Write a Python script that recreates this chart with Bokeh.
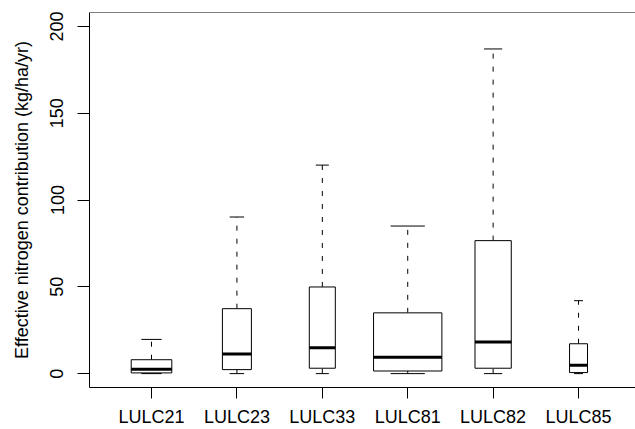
import math
from bokeh.plotting import figure
from bokeh.models import Range1d, FixedTicker, Span, ColumnDataSource
from bokeh.embed import file_html
from bokeh.resources import INLINE

# ---- data ----
categories = ["LULC21", "LULC23", "LULC33", "LULC81", "LULC82", "LULC85"]
lower_whisker = [0.0, 0.0, 0.0, 0.0, 0.0, 0.0]
q1 = [0.4, 2.3, 3.1, 1.5, 3.1, 0.6]
median = [2.5, 11.3, 14.9, 9.4, 18.2, 4.8]
q3 = [8.0, 37.4, 49.9, 35.0, 76.6, 17.2]
upper_whisker = [19.7, 90.2, 120.1, 85.0, 187.0, 42.0]
# relative sample size (box width ~ sqrt(n), R varwidth=TRUE)
sample_share = [0.353, 0.180, 0.145, 1.0, 0.282, 0.069]
y_ticks = [0, 50, 100, 150, 200]

FONT = "Liberation Sans"
FS = "18px"

xs = [i + 1 for i in range(len(categories))]
maxs = max(math.sqrt(s) for s in sample_share)
widths = [0.8 * math.sqrt(s) / maxs for s in sample_share]

src = ColumnDataSource(dict(
    x=xs,
    left=[x - w / 2 for x, w in zip(xs, widths)],
    right=[x + w / 2 for x, w in zip(xs, widths)],
    cap_l=[x - w / 4 for x, w in zip(xs, widths)],
    cap_r=[x + w / 4 for x, w in zip(xs, widths)],
    lo=lower_whisker, q1=q1, med=median, q3=q3, hi=upper_whisker,
))

p = figure(width=635, height=429,
           x_range=Range1d(0.274, 6.667), y_range=Range1d(-8, 208),
           output_backend="svg", toolbar_location=None,
           min_border_left=89, min_border_right=0,
           min_border_top=12, min_border_bottom=41)

p.outline_line_color = None
p.background_fill_color = "white"
p.border_fill_color = "white"
p.xgrid.visible = False
p.ygrid.visible = False

# whiskers
p.segment(x0="x", y0="q3", x1="x", y1="hi", source=src, line_color="black",
          line_width=1, line_dash="5 8")
p.segment(x0="x", y0="lo", x1="x", y1="q1", source=src, line_color="black",
          line_width=1, line_dash="5 8")
# caps
p.segment(x0="cap_l", y0="hi", x1="cap_r", y1="hi", source=src, line_color="black", line_width=1)
p.segment(x0="cap_l", y0="lo", x1="cap_r", y1="lo", source=src, line_color="black", line_width=1)
# boxes
p.quad(left="left", right="right", bottom="q1", top="q3", source=src,
       fill_color="white", line_color="black", line_width=1)
# medians
p.segment(x0="left", y0="med", x1="right", y1="med", source=src,
          line_color="black", line_width=3)

# top frame line
p.add_layout(Span(location=208, dimension="width", line_color="black", line_width=1))

# axes
xa = p.xaxis[0]
xa.ticker = FixedTicker(ticks=xs)
xa.major_label_overrides = {x: c for x, c in zip(xs, categories)}
xa.minor_tick_line_color = None
xa.major_tick_out = 11
xa.major_tick_in = 0
xa.major_label_standoff = 8
xa.major_label_text_font = FONT
xa.major_label_text_font_size = FS
xa.major_label_text_color = "black"
xa.axis_line_color = "black"
xa.major_tick_line_color = "black"

ya = p.yaxis[0]
ya.ticker = FixedTicker(ticks=y_ticks)
ya.minor_tick_line_color = None
ya.major_tick_out = 12
ya.major_tick_in = 0
ya.major_label_standoff = 14
ya.major_label_orientation = "parallel"
ya.major_label_text_font = FONT
ya.major_label_text_font_size = FS
ya.major_label_text_color = "black"
ya.axis_line_color = "black"
ya.major_tick_line_color = "black"
ya.axis_label = "Effective nitrogen contribution (kg/ha/yr)"
ya.axis_label_text_font = FONT
ya.axis_label_text_font_size = FS
ya.axis_label_text_font_style = "normal"
ya.axis_label_text_color = "black"
ya.axis_label_standoff = 16

open("out.html", "w").write(file_html(p, INLINE))
